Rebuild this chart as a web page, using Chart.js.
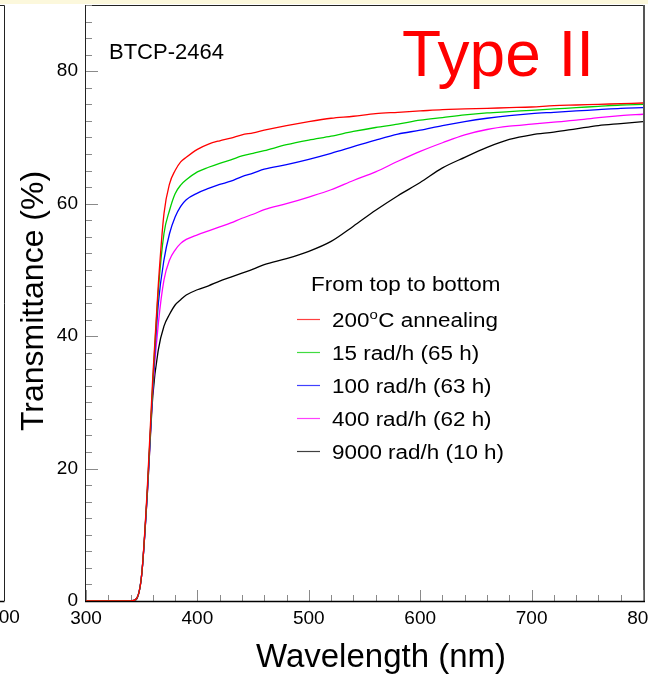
<!DOCTYPE html>
<html>
<head>
<meta charset="utf-8">
<script src="https://cdn.jsdelivr.net/npm/chart.js@4.4.0/dist/chart.umd.min.js"></script>
<style>
  html, body { margin: 0; padding: 0; background: #fff; }
  #wrap { width: 648px; height: 676px; }
</style>
</head>
<body>
<div id="wrap"><canvas id="spectra" width="648" height="676"></canvas></div>
<script>
// Transmittance spectra of BTCP-2464 after different dose rates
const wavelengths = [300, 340, 345, 350, 355, 360, 365, 370, 375, 380, 385, 390, 400, 410, 420, 430, 440, 450, 460, 480,
  500, 520, 540, 560, 580, 600, 620, 640, 660, 680, 700, 720, 740, 760, 780, 800];
const annealed = [0, 0, 0.3, 4, 17, 34, 48, 58.5, 63, 65, 66.3, 67, 68.2, 69, 69.5, 69.9, 70.4, 70.7, 71.1, 71.8,
  72.4, 72.9, 73.2, 73.6, 73.8, 74.0, 74.2, 74.3, 74.4, 74.5, 74.6, 74.8, 74.9, 75.0, 75.1, 75.2];
const dose15 = [0, 0, 0.3, 4, 16.5, 33, 47, 55.5, 59, 61.5, 62.8, 63.6, 64.8, 65.5, 66.1, 66.6, 67.2, 67.6, 68.0, 68.9,
  69.6, 70.2, 70.9, 71.5, 72.0, 72.6, 73.0, 73.4, 73.7, 73.9, 74.1, 74.3, 74.5, 74.7, 74.9, 75.0];
const dose100 = [0, 0, 0.3, 4, 16.3, 32.5, 45, 51.5, 55.5, 58, 59.6, 60.6, 61.6, 62.3, 62.9, 63.4, 64.1, 64.6, 65.2, 65.9,
  66.7, 67.6, 68.6, 69.6, 70.5, 71.1, 71.8, 72.4, 72.9, 73.3, 73.6, 73.8, 74.0, 74.2, 74.4, 74.5];
const dose400 = [0, 0, 0.3, 4, 16, 32, 42, 48.5, 51.5, 53, 54, 54.6, 55.3, 55.9, 56.5, 57.1, 57.8, 58.4, 59.1, 60,
  61, 62.1, 63.5, 64.8, 66.4, 67.9, 69.2, 70.4, 71.2, 71.7, 72.0, 72.3, 72.6, 73.0, 73.3, 73.5];
const dose9000 = [0, 0, 0.2, 4, 16, 31, 38, 41.5, 43.3, 44.7, 45.5, 46.2, 47, 47.6, 48.3, 48.9, 49.5, 50.1, 50.8, 51.7,
  52.8, 54.3, 56.6, 59, 61.2, 63.2, 65.4, 67, 68.5, 69.7, 70.4, 70.8, 71.3, 71.8, 72.1, 72.4];

const seriesLabels = ['200°C annealing', '15 rad/h (65 h)', '100 rad/h (63 h)', '400 rad/h (62 h)', '9000 rad/h (10 h)'];
const seriesColors = ['#ff0000', '#00d000', '#0000ff', '#ff00ff', '#000000'];
const xTickValues = [300, 400, 500, 600, 700, 800];
const yTickValues = [0, 20, 40, 60, 80];

const FONT = '"Liberation Sans", Arial, Helvetica, sans-serif';

const series = [annealed, dose15, dose100, dose400, dose9000];

// frame, inner ticks and the neighbouring pad edge
const framePlugin = {
  id: 'frame',
  beforeDraw(chart) {
    const ctx = chart.ctx;
    ctx.save();
    ctx.fillStyle = '#ffffff';
    ctx.fillRect(0, 0, chart.width, chart.height);
    ctx.fillStyle = '#fcf8dc';
    ctx.fillRect(0, 0, chart.width, 4);
    // edge of the pad on the left
    ctx.strokeStyle = '#222';
    ctx.lineWidth = 1;
    ctx.beginPath();
    ctx.moveTo(0, 5.5); ctx.lineTo(4.5, 5.5); ctx.lineTo(4.5, 601);
    ctx.stroke();
    ctx.strokeStyle = '#000';
    ctx.lineWidth = 1.5;
    ctx.beginPath();
    ctx.moveTo(0, 601.5); ctx.lineTo(4.5, 601.5);
    ctx.stroke();
    ctx.fillStyle = '#000';
    ctx.font = '19px ' + FONT;
    ctx.textAlign = 'center';
    ctx.textBaseline = 'alphabetic';
    ctx.fillText('800', 4, 623);
    ctx.restore();
  },
  beforeDatasetsDraw(chart) {
    const { ctx, chartArea: a, scales: { x, y } } = chart;
    ctx.save();
    ctx.strokeStyle = '#222';
    ctx.lineWidth = 1;
    ctx.strokeRect(a.left - 0.5, a.top + 0.5, a.right - a.left + 1, a.bottom - a.top);
    ctx.strokeStyle = '#555';
    ctx.lineWidth = 2;
    ctx.beginPath();
    ctx.moveTo(a.right + 1, a.top); ctx.lineTo(a.right + 1, a.bottom);
    ctx.stroke();

    ctx.strokeStyle = '#8a8a8a';
    ctx.lineWidth = 1;
    ctx.beginPath();
    for (let v = 300; v <= 800; v += 20) {
      const px = Math.round(x.getPixelForValue(v)) + 0.5;
      const len = v % 100 === 0 ? 11 : 6;
      ctx.moveTo(px, a.bottom); ctx.lineTo(px, a.bottom - len);
    }
    for (let v = 0; v <= 90; v += 2.5) {
      const py = Math.round(y.getPixelForValue(v)) + 0.5;
      const len = v % 20 === 0 ? 12 : 6;
      ctx.moveTo(a.left, py); ctx.lineTo(a.left + len, py);
    }
    ctx.stroke();

    ctx.strokeStyle = '#000';
    ctx.lineWidth = 1.5;
    ctx.beginPath();
    ctx.moveTo(a.left - 1, a.bottom + 0.5); ctx.lineTo(a.right + 2, a.bottom + 0.5);
    ctx.stroke();
    ctx.restore();
  },
  afterDraw(chart) {
    const ctx = chart.ctx;
    ctx.save();
    ctx.fillStyle = '#000';
    ctx.textBaseline = 'alphabetic';

    // axis titles
    ctx.font = '33px ' + FONT;
    ctx.textAlign = 'center';
    ctx.fillText('Wavelength (nm)', 381, 667);
    ctx.save();
    ctx.translate(43, 301);
    ctx.rotate(-Math.PI / 2);
    ctx.font = '32px ' + FONT;
    ctx.fillText('Transmittance (%)', 0, 0);
    ctx.restore();

    ctx.textAlign = 'left';
    ctx.font = '22px ' + FONT;
    ctx.fillText('BTCP-2464', 109, 59);
    ctx.fillStyle = '#ff0000';
    ctx.font = '64px ' + FONT;
    ctx.fillText('Type II', 402, 76);

    // legend, drawn from the datasets
    const stretch = 1.15;
    const drawText = (txt, tx, ty, size) => {
      ctx.save();
      ctx.translate(tx, ty);
      ctx.scale(stretch, 1);
      ctx.font = size + 'px ' + FONT;
      ctx.fillText(txt, 0, 0);
      const w = ctx.measureText(txt).width * stretch;
      ctx.restore();
      return w;
    };
    ctx.fillStyle = '#000';
    drawText('From top to bottom', 311, 291, 19.5);
    chart.data.datasets.forEach((ds, i) => {
      const base = 327 + i * 33;
      ctx.strokeStyle = ds.borderColor;
      ctx.globalAlpha = 0.75;
      ctx.lineWidth = 1.2;
      ctx.beginPath();
      ctx.moveTo(297, base - 7.5); ctx.lineTo(320, base - 7.5);
      ctx.stroke();
      ctx.globalAlpha = 1;
      ctx.fillStyle = '#000';
      const parts = ds.label.split('°');
      let tx = 332;
      tx += drawText(parts[0], tx, base, 19.5);
      if (parts.length > 1) {
        tx += drawText('o', tx, base - 8, 13) + 0.5;
        drawText(parts[1], tx, base, 19.5);
      }
    });
    ctx.restore();
  }
};

new Chart(document.getElementById('spectra').getContext('2d'), {
  type: 'line',
  data: {
    datasets: series.map((vals, i) => ({
      label: seriesLabels[i],
      borderColor: seriesColors[i],
      backgroundColor: seriesColors[i],
      borderWidth: 1.3,
      pointRadius: 0,
      fill: false,
      cubicInterpolationMode: 'monotone',
      data: vals.map((v, j) => ({ x: wavelengths[j], y: v })),
    })),
  },
  options: {
    responsive: false,
    animation: false,
    devicePixelRatio: 1,
    layout: { padding: { top: 5, right: 5, left: 0, bottom: 0 }, autoPadding: false },
    plugins: { legend: { display: false }, tooltip: { enabled: false } },
    scales: {
      x: {
        type: 'linear',
        min: 300,
        max: 800,
        afterFit: (s) => { s.height = 75; s.paddingLeft = 0; s.paddingRight = 0; },
        afterBuildTicks: (s) => { s.ticks = xTickValues.map((v) => ({ value: v })); },
        grid: { display: false, drawTicks: false },
        border: { display: false },
        ticks: { color: '#000', font: { family: FONT, size: 19 }, padding: 6, maxRotation: 0 },
      },
      y: {
        type: 'linear',
        min: 0,
        max: 90,
        afterFit: (s) => { s.width = 86; s.paddingTop = 0; s.paddingBottom = 0; },
        afterBuildTicks: (s) => { s.ticks = yTickValues.map((v) => ({ value: v })); },
        grid: { display: false, drawTicks: false },
        border: { display: false },
        ticks: { color: '#000', font: { family: FONT, size: 19 }, padding: 8 },
      },
    },
  },
  plugins: [framePlugin],
});
</script>
</body>
</html>
